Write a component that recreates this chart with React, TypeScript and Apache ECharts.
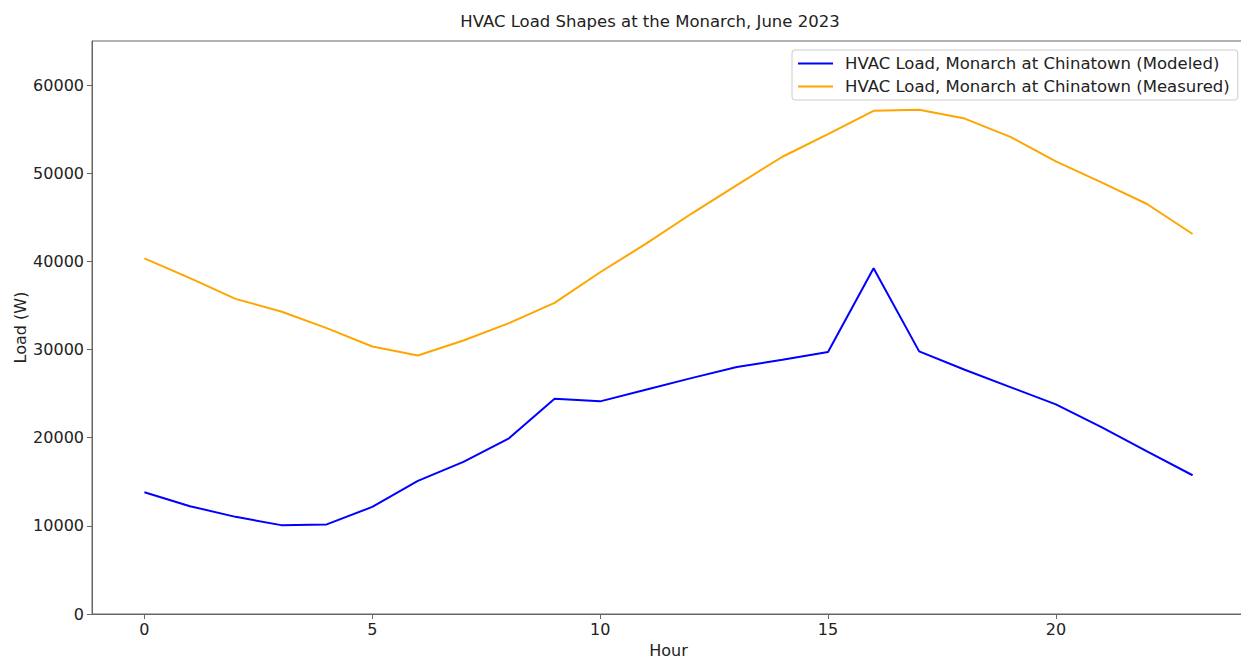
import React, { useEffect, useRef } from "react";
import * as echarts from "echarts";

const hours = [0,1,2,3,4,5,6,7,8,9,10,11,12,13,14,15,16,17,18,19,20,21,22,23];
const modeled = [13820,12230,11020,10080,10160,12150,15100,17250,19930,24430,24120,25440,26760,28010,28840,29710,39220,29790,27710,25740,23780,21210,18460,15740];
const measured = [40350,38110,35750,34310,32430,30350,29330,31030,33000,35300,38770,41980,45400,48660,51870,54440,57080,57190,56200,54130,51340,48960,46510,43110];
const xTicks = [0,5,10,15,20];
const modeledName = "HVAC Load, Monarch at Chinatown (Modeled)";
const measuredName = "HVAC Load, Monarch at Chinatown (Measured)";
const titleText = "HVAC Load Shapes at the Monarch, June 2023";

const FONT = "DejaVu Sans";
const TXT = "#222";
const AX = "#666";

export default function App() {
  const ref = useRef<HTMLDivElement>(null);
  useEffect(() => {
    if (!ref.current) return;
    const chart = echarts.init(ref.current, null, { renderer: "svg" });
    chart.setOption({
      animation: false,
      backgroundColor: "#fff",
      textStyle: { fontFamily: FONT, color: TXT },
      title: {
        text: titleText,
        left: 645,
        top: 8,
        textAlign: "center",
        textStyle: { fontFamily: FONT, fontSize: 16.5, fontWeight: "normal", color: TXT },
      },
      legend: {
        orient: "vertical",
        left: 792,
        top: 50,
        padding: [5, 8, 5, 6],
        itemWidth: 35,
        itemHeight: 2,
        itemGap: 6,
        icon: "rect",
        borderColor: "#ccc",
        borderWidth: 1,
        borderRadius: 3,
        backgroundColor: "rgba(255,255,255,0.8)",
        textStyle: { fontFamily: FONT, fontSize: 16.5, color: TXT, padding: [0, 0, 0, 7] },
        data: [modeledName, measuredName],
      },
      grid: {
        left: 92, right: -4, top: 41, bottom: 44, containLabel: false,
        outerBoundsMode: "none",
        show: true, borderColor: AX, borderWidth: 1, backgroundColor: "transparent",
      },
      xAxis: {
        type: "value",
        min: -1.15,
        max: 24.15,
        name: "Hour",
        nameLocation: "middle",
        nameGap: 28,
        nameTextStyle: { fontFamily: FONT, fontSize: 16, color: TXT },
        axisLine: { show: true, onZero: false, lineStyle: { color: AX, width: 1 } },
        axisTick: { show: true, length: 5, lineStyle: { color: AX }, customValues: xTicks },
        axisLabel: { fontFamily: FONT, fontSize: 16, color: TXT, margin: 7, customValues: xTicks },
        splitLine: { show: false },
      },
      yAxis: {
        type: "value",
        min: 0,
        max: 65000,
        interval: 10000,
        name: "Load (W)",
        nameLocation: "middle",
        nameGap: 64,
        nameMoveOverlap: false,
        nameTextStyle: { fontFamily: FONT, fontSize: 16, color: TXT },
        axisLine: { show: true, onZero: false, lineStyle: { color: AX, width: 1 } },
        axisTick: { show: true, length: 5, lineStyle: { color: AX } },
        axisLabel: {
          fontFamily: FONT, fontSize: 16, color: TXT, margin: 8, showMaxLabel: false,
          formatter: (v: number) => String(v),
        },
        splitLine: { show: false },
      },
      series: [
        {
          name: modeledName,
          type: "line",
          data: hours.map((h, i) => [h, modeled[i]]),
          symbol: "none",
          lineStyle: { color: "#0000ff", width: 2 },
          itemStyle: { color: "#0000ff" },
        },
        {
          name: measuredName,
          type: "line",
          data: hours.map((h, i) => [h, measured[i]]),
          symbol: "none",
          lineStyle: { color: "#ffa500", width: 2 },
          itemStyle: { color: "#ffa500" },
        },
      ],
    });
    return () => chart.dispose();
  }, []);
  return (
    <div
      ref={ref}
      style={{ position: "absolute", left: 0, top: 0, width: 1241, height: 658, overflow: "hidden" }}
    />
  );
}
